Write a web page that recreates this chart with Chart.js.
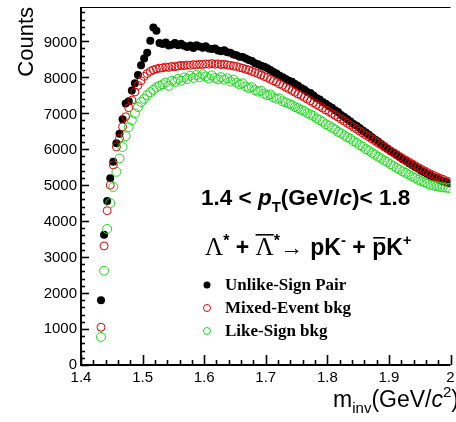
<!DOCTYPE html>
<html>
<head>
<meta charset="utf-8">
<script src="https://cdn.jsdelivr.net/npm/chart.js@4.4.1/dist/chart.umd.min.js"></script>
<style>
    html, body { margin: 0; padding: 0; background: #fff; }
    #wrap { width: 456px; height: 422px; }
</style>
</head>
<body>
<div id="wrap"><canvas id="minvChart" width="456" height="422"></canvas></div>
<script>
    // Invariant mass spectra, bin width 0.005 GeV/c^2, first bin centre 1.4325
    const firstBinCentre = 1.4325;
    const binWidth = 0.005;

    // Unlike-sign pairs (same event)
    const unlikeSign = [
        1800, 3620, 4560, 5190, 5650, 6160, 6430, 6830, 7270, 7330,
        7630, 7830, 8060, 8330, 8520, 8680, 9010, 9380, 9290, 8950,
        8920, 8960, 8880, 8900, 8950, 8890, 8930, 8870, 8840, 8880,
        8810, 8890, 8850, 8820, 8860, 8800, 8780, 8800, 8740, 8720,
        8750, 8690, 8680, 8630, 8610, 8570, 8560, 8520, 8480, 8450,
        8390, 8360, 8320, 8290, 8250, 8200, 8140, 8100, 8040, 8000,
        7950, 7900, 7870, 7810, 7760, 7700, 7660, 7590, 7560, 7490,
        7420, 7380, 7310, 7260, 7200, 7150, 7080, 7030, 6950, 6890,
        6830, 6770, 6700, 6650, 6590, 6520, 6460, 6400, 6330, 6270,
        6210, 6140, 6080, 6020, 5950, 5900, 5840, 5780, 5720, 5670,
        5610, 5560, 5500, 5460, 5400, 5360, 5310, 5270, 5220, 5190,
        5150, 5110, 5080, 5050
    ];

    // Mixed-event background (normalised)
    const mixedEvent = [
        1050, 3310, 4290, 5000, 5560, 6060, 6300, 6620, 6900, 7150,
        7360, 7590, 7770, 7900, 8020, 8100, 8160, 8200, 8230, 8250,
        8260, 8280, 8270, 8300, 8290, 8310, 8330, 8320, 8340, 8330,
        8350, 8340, 8360, 8350, 8370, 8360, 8380, 8360, 8370, 8350,
        8360, 8340, 8330, 8310, 8300, 8270, 8250, 8220, 8200, 8160,
        8130, 8100, 8060, 8020, 7990, 7940, 7900, 7860, 7810, 7770,
        7720, 7680, 7630, 7580, 7530, 7490, 7440, 7390, 7340, 7290,
        7240, 7190, 7140, 7090, 7040, 6990, 6940, 6890, 6830, 6780,
        6720, 6670, 6610, 6560, 6500, 6450, 6390, 6340, 6280, 6230,
        6170, 6120, 6060, 6010, 5950, 5900, 5850, 5790, 5740, 5690,
        5640, 5590, 5540, 5490, 5440, 5400, 5350, 5310, 5270, 5230,
        5190, 5160, 5120, 5090
    ];

    // Like-sign background
    const likeSign = [
        780, 2620, 3780, 4500, 4950, 5370, 5740, 6060, 6360, 6610,
        6800, 6990, 7170, 7310, 7400, 7500, 7580, 7650, 7720, 7760,
        7800, 7850, 7760, 7900, 7870, 7950, 7900, 7990, 7950, 8040,
        7980, 8060, 8000, 8080, 8020, 7960, 8050, 7980, 7940, 8000,
        7930, 7970, 7880, 7930, 7850, 7800, 7830, 7740, 7700, 7720,
        7640, 7600, 7620, 7540, 7500, 7520, 7440, 7400, 7410, 7330,
        7300, 7260, 7230, 7170, 7140, 7090, 7060, 7000, 6960, 6920,
        6850, 6810, 6760, 6690, 6650, 6600, 6550, 6480, 6440, 6380,
        6330, 6290, 6220, 6180, 6110, 6070, 6000, 5960, 5900, 5850,
        5790, 5740, 5680, 5640, 5580, 5530, 5480, 5430, 5380, 5340,
        5290, 5240, 5200, 5150, 5110, 5080, 5040, 5010, 4990, 4970,
        4950, 4940, 4930, 4920
    ];

    // Axis settings
    const xTickLabels = ['1.4', '1.5', '1.6', '1.7', '1.8', '1.9', '2'];
    const yTickLabels = ['0', '1000', '2000', '3000', '4000', '5000', '6000', '7000', '8000', '9000'];
    const xRange = [1.4, 2.0];
    const yRange = [0, 9950];

    const legendLabels = ['Unlike-Sign Pair', 'Mixed-Event bkg', 'Like-Sign bkg'];

    const SANS = '"Liberation Sans", Arial, sans-serif';
    const SERIF = '"Liberation Serif", "Times New Roman", serif';

    const binCentre = i => +(firstBinCentre + binWidth * i).toFixed(4);
    const toPoints = arr => arr.map((y, i) => ({ x: binCentre(i), y: y }));

    // Draws a run of text pieces with their own fonts / offsets
    function drawRich(ctx, x, y, parts, measureOnly) {
        let cx = x;
        parts.forEach(p => {
            ctx.font = p.f;
            const w = ctx.measureText(p.t).width;
            if (!measureOnly) {
                ctx.fillText(p.t, cx, y + (p.dy || 0));
                if (p.over) {
                    ctx.fillRect(cx + (p.oi || 0), y - p.over, w - 2 * (p.oi || 0), 1.6);
                }
            }
            cx += w + (p.gap || 0);
        });
        return cx - x;
    }

    // Inward ticks, axis lines and frame (ROOT style)
    const frameTicks = {
        id: 'frameTicks',
        afterDatasetsDraw(chart) {
            const ctx = chart.ctx;
            const area = chart.chartArea;
            const xs = chart.scales.x;
            const ys = chart.scales.y;
            ctx.save();
            ctx.strokeStyle = '#000';
            ctx.lineWidth = 1;
            ctx.beginPath();
            ctx.moveTo(area.left, area.top + 0.5);
            ctx.lineTo(area.right, area.top + 0.5);
            ctx.stroke();

            ctx.lineWidth = 1.6;
            for (let i = 0; i <= 30; i++) {
                const px = Math.round(xs.getPixelForValue(xRange[0] + i * 0.02)) + 0.5;
                const len = i % 5 === 0 ? 10 : 5;
                ctx.beginPath();
                ctx.moveTo(px, area.bottom);
                ctx.lineTo(px, area.bottom - len);
                ctx.stroke();
            }
            for (let i = 0; i * 200 <= yRange[1]; i++) {
                const py = Math.round(ys.getPixelForValue(i * 200)) + 0.5;
                const len = i % 5 === 0 ? 8 : 4;
                ctx.beginPath();
                ctx.moveTo(area.left, py);
                ctx.lineTo(area.left + len, py);
                ctx.stroke();
            }

            ctx.lineWidth = 2;
            ctx.beginPath();
            ctx.moveTo(area.left, area.top);
            ctx.lineTo(area.left, area.bottom);
            ctx.lineTo(area.right, area.bottom);
            ctx.stroke();
            ctx.restore();
        }
    };

    // Axis titles, kinematic label, decay channel and legend
    const annotations = {
        id: 'annotations',
        afterDraw(chart) {
            const ctx = chart.ctx;
            ctx.save();
            ctx.fillStyle = '#000';
            ctx.textBaseline = 'alphabetic';
            ctx.textAlign = 'left';

            // y title
            ctx.save();
            ctx.translate(33, 7);
            ctx.rotate(-Math.PI / 2);
            ctx.textAlign = 'right';
            ctx.font = '22px ' + SANS;
            ctx.fillText('Counts', 0, 0);
            ctx.restore();

            // x title, right aligned at the canvas edge
            const xTitle = [
                { t: 'm', f: '23px ' + SANS },
                { t: 'inv', f: '15px ' + SANS, dy: 6 },
                { t: '(GeV/', f: '23px ' + SANS },
                { t: 'c', f: 'italic 23px ' + SANS },
                { t: '2', f: '15px ' + SANS, dy: -10 },
                { t: ')', f: '23px ' + SANS }
            ];
            const tw = drawRich(ctx, 0, 0, xTitle, true);
            drawRich(ctx, 459 - tw, 407, xTitle);

            // pT range
            drawRich(ctx, 201, 205, [
                { t: '1.4 < ', f: 'bold 22.5px ' + SANS },
                { t: 'p', f: 'italic bold 22.5px ' + SANS },
                { t: 'T', f: 'bold 15px ' + SANS, dy: 7 },
                { t: '(GeV/', f: 'bold 22.5px ' + SANS },
                { t: 'c', f: 'italic bold 22.5px ' + SANS },
                { t: ')< 1.8', f: 'bold 22.5px ' + SANS }
            ]);

            // decay channel
            drawRich(ctx, 205, 255, [
                { t: '\u039B', f: '25px ' + SERIF },
                { t: '*', f: 'bold 16px ' + SANS, dy: -9 },
                { t: ' + ', f: 'bold 23px ' + SANS },
                { t: '\u039B', f: '25px ' + SERIF, over: 21 },
                { t: '*', f: 'bold 16px ' + SANS, dy: -9 },
                { t: '\u2192', f: '23px ' + SERIF, gap: 1 },
                { t: ' pK', f: 'bold 23px ' + SANS },
                { t: '-', f: 'bold 15px ' + SANS, dy: -10 },
                { t: ' + ', f: 'bold 23px ' + SANS },
                { t: 'p', f: 'bold 23px ' + SANS, over: 18, oi: 1 },
                { t: 'K', f: 'bold 23px ' + SANS },
                { t: '+', f: 'bold 15px ' + SANS, dy: -10 }
            ]);

            // legend
            const rows = [285, 308, 331];
            ctx.font = 'bold 17px ' + SERIF;
            ctx.textBaseline = 'middle';
            legendLabels.forEach((label, i) => {
                const ds = chart.data.datasets[i];
                ctx.beginPath();
                ctx.arc(207, rows[i], 3.5, 0, Math.PI * 2);
                if (i === 0) {
                    ctx.fillStyle = '#000';
                    ctx.fill();
                } else {
                    ctx.strokeStyle = ds.borderColor;
                    ctx.lineWidth = 1;
                    ctx.stroke();
                }
                ctx.fillStyle = '#000';
                ctx.fillText(label, 225, rows[i] + 1);
            });
            ctx.restore();
        }
    };

    new Chart(document.getElementById('minvChart'), {
        type: 'scatter',
        data: {
            datasets: [{
                label: legendLabels[0],
                data: toPoints(unlikeSign),
                backgroundColor: '#000',
                borderColor: '#000',
                borderWidth: 0,
                pointRadius: 4,
                order: 3
            }, {
                label: legendLabels[1],
                data: toPoints(mixedEvent),
                backgroundColor: 'transparent',
                borderColor: 'rgb(225, 0, 0)',
                borderWidth: 1,
                pointRadius: 4,
                order: 2
            }, {
                label: legendLabels[2],
                data: toPoints(likeSign),
                backgroundColor: 'transparent',
                borderColor: 'rgb(20, 220, 20)',
                borderWidth: 1,
                pointRadius: 4.5,
                order: 1
            }]
        },
        options: {
            responsive: false,
            animation: false,
            devicePixelRatio: 1,
            layout: { padding: { top: 7, right: 0, left: 0, bottom: 0 } },
            plugins: {
                legend: { display: false },
                tooltip: { enabled: false }
            },
            scales: {
                x: {
                    type: 'linear',
                    min: xRange[0],
                    max: xRange[1],
                    grid: { display: false, drawTicks: false },
                    border: { display: false },
                    ticks: {
                        stepSize: 0.1,
                        maxRotation: 0,
                        autoSkip: false,
                        padding: 4,
                        color: '#000',
                        font: { family: SANS, size: 15 },
                        callback: (v, i) => xTickLabels[i]
                    },
                    afterFit: s => {
                        s.height = 57;
                        s.paddingLeft = 0;
                        s.paddingRight = 0;
                    }
                },
                y: {
                    min: yRange[0],
                    max: yRange[1],
                    grid: { display: false, drawTicks: false },
                    border: { display: false },
                    ticks: {
                        stepSize: 1000,
                        includeBounds: false,
                        padding: 4,
                        color: '#000',
                        font: { family: SANS, size: 15 },
                        callback: (v, i) => yTickLabels[i]
                    },
                    afterFit: s => {
                        s.width = 81;
                        s.paddingTop = 0;
                        s.paddingBottom = 0;
                    }
                }
            }
        },
        plugins: [frameTicks, annotations]
    });
</script>
</body>
</html>
